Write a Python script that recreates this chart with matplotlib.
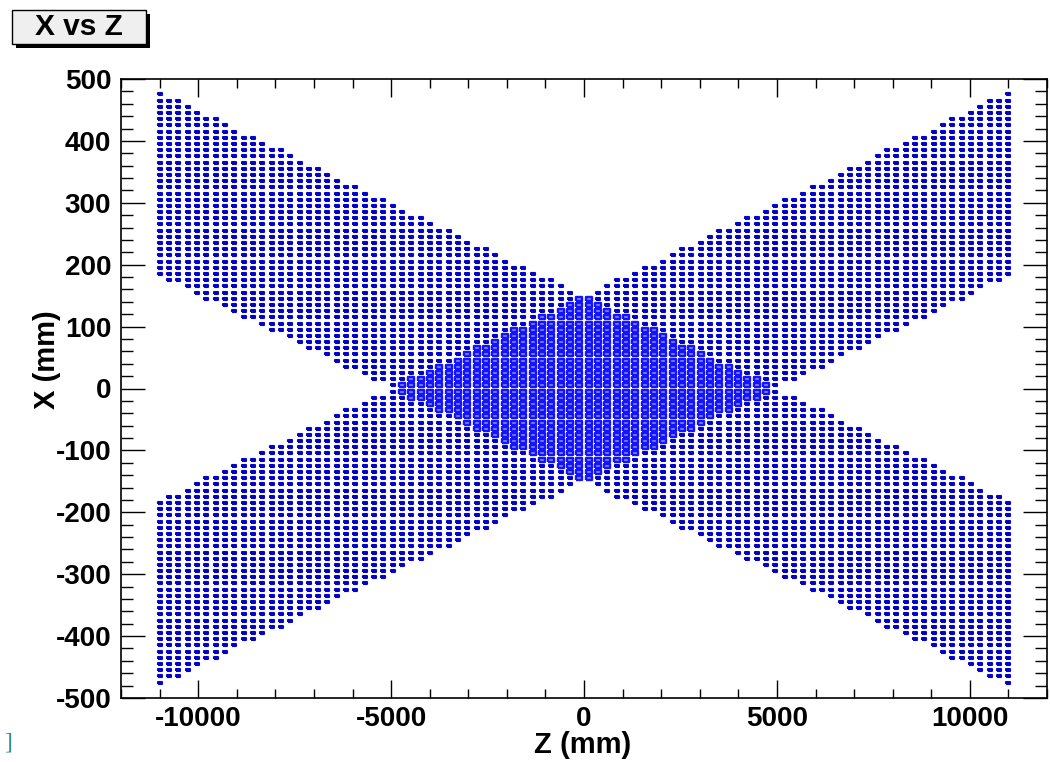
import numpy as np
import matplotlib
matplotlib.use("Agg")
import matplotlib.pyplot as plt
from matplotlib.patches import Rectangle
from matplotlib.ticker import MultipleLocator

# ---- data ----
# histogram grid (bin centres)
z_first, z_last, n_zcols = -11000, 11000, 92      # mm
x_first, x_last, x_step = -475, 475, 10           # mm
# band edges at the two ends of the Z range
band_z = [-11000, 11000]
band1_upper = [480, -180]    # upper-left -> lower-right band
band1_lower = [180, -480]
band2_upper = [-180, 480]    # lower-left -> upper-right band
band2_lower = [-480, 180]

xticks_major = [-10000, -5000, 0, 5000, 10000]
yticks_major = [-500, -400, -300, -200, -100, 0, 100, 200, 300, 400, 500]
title = "X vs Z"
xlabel = "Z (mm)"
ylabel = "X (mm)"

# ---- build bin contents ----
z_cols = np.linspace(z_first, z_last, n_zcols)
x_rows = np.arange(x_first, x_last + 1, x_step)
Z, X = np.meshgrid(z_cols, x_rows)

def in_band(lo, hi):
    lo_z = np.interp(Z, band_z, lo)
    hi_z = np.interp(Z, band_z, hi)
    return (X >= lo_z) & (X <= hi_z)

count = in_band(band1_lower, band1_upper).astype(int) + in_band(band2_lower, band2_upper).astype(int)

# ---- figure ----
W, H = 1050, 762
fig = plt.figure(figsize=(W / 100, H / 100), dpi=100)
fig.patch.set_facecolor("white")
ax = fig.add_axes([121 / W, 1 - 698 / H, (1047 - 121) / W, (698 - 79) / H])

FONT = "Liberation Sans"
rect1 = [(-1, -0.65), (1, -0.65), (1, 0.65), (-1, 0.65), (-1, -0.65)]
rect2 = [(-1, -0.6), (1, -0.6), (1, 0.6), (-1, 0.6), (-1, -0.6)]

m1 = count == 1
m2 = count == 2
ax.scatter(Z[m1], X[m1], marker=rect1, s=11, facecolors="#c4c4ff",
           edgecolors="#0404c8", linewidths=1.5, zorder=2)
ax.scatter(Z[m2], X[m2], marker=rect2, s=22, facecolors="#8a8aff",
           edgecolors="#1414ff", linewidths=1.7, zorder=3)

ax.set_xlim(-12000, 12000)
ax.set_ylim(-500, 500)

ax.xaxis.set_major_locator(MultipleLocator(5000))
ax.xaxis.set_minor_locator(MultipleLocator(1000))
ax.yaxis.set_major_locator(MultipleLocator(100))
ax.yaxis.set_minor_locator(MultipleLocator(20))
ax.set_xticks(xticks_major)
ax.set_yticks(yticks_major)
ax.set_xticklabels([str(v) for v in xticks_major])
ax.set_yticklabels([str(v) for v in yticks_major])

ax.tick_params(axis="x", which="major", direction="in", length=13, width=1.0,
               top=True, bottom=True, pad=6, labelsize=20)
ax.tick_params(axis="x", which="minor", direction="in", length=6.5, width=1.0,
               top=True, bottom=True)
ax.tick_params(axis="y", which="major", direction="in", length=17, width=1.0,
               left=True, right=True, pad=7, labelsize=20)
ax.tick_params(axis="y", which="minor", direction="in", length=8.5, width=1.0,
               left=True, right=True)
for lab in ax.get_xticklabels() + ax.get_yticklabels():
    lab.set_fontfamily(FONT)
    lab.set_fontweight("bold")
for sp in ax.spines.values():
    sp.set_linewidth(1.2)
    sp.set_color("black")

# axis titles
fig.text(583 / W, 1 - 745 / H, xlabel, ha="center", va="center",
         fontsize=21, fontweight="bold", family=FONT)
fig.text(47 / W, 1 - 360 / H, ylabel, ha="center", va="center", rotation=90,
         fontsize=21, fontweight="bold", family=FONT)

# title box with shadow (ROOT style)
bx0, by0, bx1, by1 = 12, 10, 146, 44
fig.patches.append(Rectangle(((bx0 + 4) / W, 1 - (by1 + 4) / H),
                             (bx1 - bx0) / W, (by1 - by0) / H, transform=fig.transFigure,
                             facecolor="black", edgecolor="none", zorder=1))
fig.patches.append(Rectangle((bx0 / W, 1 - by1 / H), (bx1 - bx0) / W, (by1 - by0) / H,
                             transform=fig.transFigure, facecolor="#efefef",
                             edgecolor="black", linewidth=1.0, zorder=2))
fig.text((bx0 + bx1) / 2 / W, 1 - (by0 + by1) / 2 / H, title, ha="center", va="center",
         fontsize=21.5, fontweight="bold", family=FONT, zorder=3)

# stray bracket at lower left of the original image
fig.text(8 / W, 1 - 743 / H, "]", ha="center", va="center", fontsize=17,
         color="#2a8c8c", family="Liberation Serif")

fig.savefig("out.png", dpi=100, facecolor="white")
